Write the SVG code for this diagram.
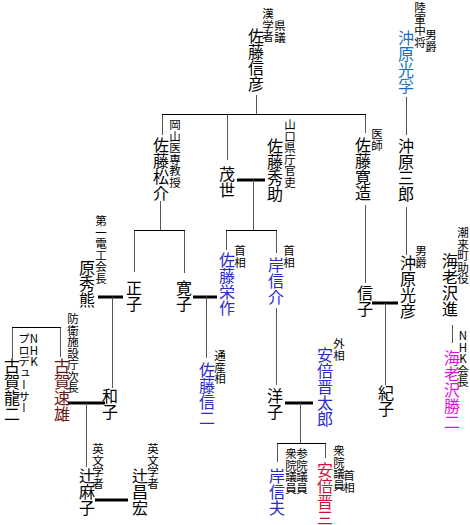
<svg xmlns="http://www.w3.org/2000/svg" width="470" height="525" viewBox="0 0 470 525">
<style>
text{font-family:"Noto Sans CJK JP","Noto Sans CJK SC",sans-serif;writing-mode:vertical-rl;text-orientation:upright;fill:#000}
.n{font-size:16px}
.a{font-size:11.5px}
.blue{fill:#2b2bc8}
.teal{fill:#1a70c0}
.maroon{fill:#6b1515}
.mag{fill:#e010e0}
.red{fill:#d0103a}
.l{stroke:#555;stroke-width:1;fill:none}
.h{stroke:#000;stroke-width:1;fill:none}
.m{stroke:#000;stroke-width:3;fill:none}
</style>
<rect width="470" height="525" fill="#fff"/>
<g id="connectors">
<path class="l" d="M256.5 95V114M162.5 114V135M227.5 114V160M365.5 114V133M406.5 97V135"/>
<path class="h" d="M162 114.5H366"/>
<path class="m" d="M237 180H265"/>
<path class="l" d="M253.5 180V230M226.5 230V250M276.5 230V253"/>
<path class="h" d="M226 230.5H277"/>
<path class="l" d="M160.5 201V230M134.5 230V272M184.5 230V273"/>
<path class="h" d="M134 230.5H185"/>
<path class="m" d="M98 297H123M193 297H217"/>
<path class="l" d="M112.5 297V388M206.5 297V358M276.5 308V385"/>
<path class="m" d="M285 403H313"/>
<path class="l" d="M300.5 403V443M277.5 443V462M325.5 443V458"/>
<path class="h" d="M277 443.5H326"/>
<path class="l" d="M60.5 357V327M12.5 327V358"/>
<path class="h" d="M12 327.5H61"/>
<path class="m" d="M68 403H105"/>
<path class="l" d="M86.5 403V467"/>
<path class="m" d="M95 500H128"/>
<path class="l" d="M365.5 205V283M406.5 207V255"/>
<path class="m" d="M372 303H398"/>
<path class="l" d="M385.5 303V385M452.5 325V343"/>
</g>
<g id="n-sato-nobuhiko"><text class="n" x="256" y="28">佐藤信彦</text><text class="a" x="268" y="8">漢学者</text><text class="a" x="280" y="20">県議</text></g>
<g id="n-okinohara-mitsuzane"><text class="n teal" x="406" y="30">沖原光孚</text><text class="a" x="420" y="2">陸軍中将</text><text class="a" x="431" y="29">男爵</text></g>
<g id="n-sato-shosuke"><text class="n" x="161" y="137">佐藤松介</text><text class="a" x="175" y="119">岡山医専教授</text></g>
<g id="n-moyo"><text class="n" x="227" y="166">茂世</text></g>
<g id="n-sato-hidesuke"><text class="n" x="275" y="138">佐藤秀助</text><text class="a" x="290" y="119">山口県庁官吏</text></g>
<g id="n-sato-kanzo"><text class="n" x="363" y="137">佐藤寛造</text><text class="a" x="377" y="128">医師</text></g>
<g id="n-okinohara-saburo"><text class="n" x="406" y="138">沖原三郎</text></g>
<g id="n-masako"><text class="n" x="134" y="280">正子</text></g>
<g id="n-hiroko"><text class="n" x="184" y="280">寛子</text></g>
<g id="n-hara-hidekuma"><text class="n" x="87" y="260">原秀熊</text><text class="a" x="101" y="215">第一電工会長</text></g>
<g id="n-sato-eisaku"><text class="n blue" x="227" y="252">佐藤栄作</text><text class="a" x="240" y="245">首相</text></g>
<g id="n-kishi-nobusuke"><text class="n blue" x="276" y="257">岸信介</text><text class="a" x="289" y="245">首相</text></g>
<g id="n-okinohara-mitsuhiko"><text class="n" x="408" y="255">沖原光彦</text><text class="a" x="421" y="245">男爵</text></g>
<g id="n-ebisawa-susumu"><text class="n" x="450" y="253">海老沢進</text><text class="a" x="463" y="227">潮来町助役</text></g>
<g id="n-nobuko"><text class="n" x="365" y="285">信子</text></g>
<g id="n-koga-ryuji"><text class="n" x="12" y="358">古賀龍二</text><text class="a" x="34" y="333">NHK</text><text class="a" x="24" y="333">プロデューサー</text></g>
<g id="n-koga-hayao"><text class="n maroon" x="62" y="358">古賀速雄</text><text class="a" x="73" y="313">防衛施設庁次長</text></g>
<g id="n-kazuko"><text class="n" x="110" y="388">和子</text></g>
<g id="n-sato-shinji"><text class="n blue" x="207" y="362">佐藤信二</text><text class="a" x="220" y="350">通産相</text></g>
<g id="n-yoko"><text class="n" x="275" y="388">洋子</text></g>
<g id="n-abe-shintaro"><text class="n blue" x="325" y="347">安倍晋太郎</text><text class="a" x="339" y="338">外相</text></g>
<g id="n-noriko"><text class="n" x="386" y="385">紀子</text></g>
<g id="n-ebisawa-katsuji"><text class="n mag" x="452" y="350">海老沢勝二</text><text class="a" x="463" y="330">NHK会長</text></g>
<g id="n-tsuji-asako"><text class="n" x="87" y="468">辻麻子</text><text class="a" x="98" y="443">英文学者</text></g>
<g id="n-tsuji-masahiro"><text class="n" x="140" y="468">辻昌宏</text><text class="a" x="153" y="443">英文学者</text></g>
<g id="n-kishi-nobuo"><text class="n blue" x="277" y="468">岸信夫</text><text class="a" x="302" y="448">参院議員</text><text class="a" x="291" y="448">衆院議員</text></g>
<g id="n-abe-shinzo"><text class="n red" x="325" y="462">安倍晋三</text><text class="a" x="339" y="445">衆院議員</text><text class="a" x="349" y="470">首相</text></g>
</svg>
